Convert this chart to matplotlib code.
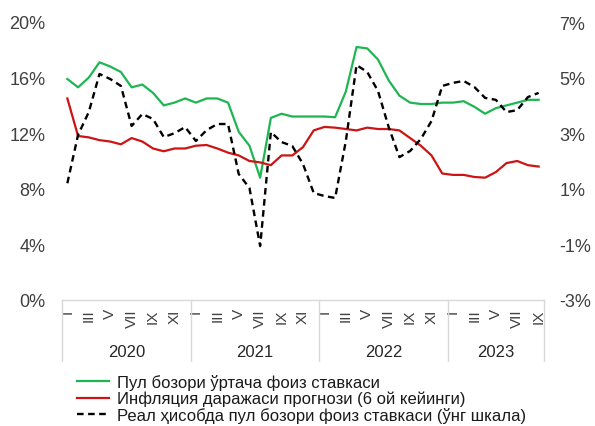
import matplotlib
matplotlib.use("Agg")
import matplotlib.pyplot as plt
from matplotlib.lines import Line2D
import matplotlib.transforms as mtransforms

plt.rcParams['font.family'] = ['Liberation Sans', 'DejaVu Sans']

years = ["2020", "2021", "2022", "2023"]
months_per_year = [12, 12, 12, 9]
month_labels = ["I", "II", "III", "IV", "V", "VI", "VII", "VIII", "IX", "X", "XI", "XII"]

money_market_rate = [15.9, 15.3, 16.0, 17.1, 16.8, 16.4, 15.3, 15.5, 14.9, 14.0, 14.2, 14.5,
                     14.2, 14.5, 14.5, 14.2, 12.1, 11.1, 8.8, 13.1, 13.4, 13.2, 13.2, 13.2,
                     13.2, 13.15, 15.0, 18.2, 18.1, 17.3, 15.8, 14.7, 14.2, 14.1, 14.1, 14.2,
                     14.2, 14.3, 13.9, 13.4, 13.8, 14.0, 14.2, 14.4, 14.4]
inflation_forecast = [14.5, 11.8, 11.7, 11.5, 11.4, 11.2, 11.65, 11.4, 10.9, 10.7, 10.9, 10.9,
                      11.1, 11.15, 10.9, 10.6, 10.4, 10.0, 9.9, 9.7, 10.4, 10.4, 11.0, 12.2,
                      12.45, 12.4, 12.3, 12.2, 12.4, 12.3, 12.3, 12.2, 11.65, 11.1, 10.4, 9.1,
                      9.0, 9.0, 8.85, 8.8, 9.2, 9.85, 10.0, 9.7, 9.6]
real_rate = [1.2, 2.94, 3.76, 5.13, 4.95, 4.70, 3.26, 3.69, 3.51, 2.86, 3.0, 3.22,
             2.72, 3.11, 3.33, 3.33, 1.53, 1.03, -1.06, 3.04, 2.68, 2.54, 1.89, 0.85,
             0.74, 0.67, 2.72, 5.45, 5.20, 4.52, 3.22, 2.14, 2.36, 2.79, 3.44, 4.70,
             4.81, 4.88, 4.66, 4.27, 4.2, 3.76, 3.83, 4.30, 4.45]

legend_labels = ["Пул бозори ўртача фоиз ставкаси",
                 "Инфляция даражаси прогнози (6 ой кейинги)",
                 "Реал ҳисобда пул бозори фоиз ставкаси (ўнг шкала)"]

green = "#1fb552"
red = "#cc1414"

fig = plt.figure(figsize=(5.95, 4.27), dpi=100)
ax = fig.add_axes([62/595, 1 - 301/427, (544-62)/595, (301-23)/427])
ax2 = ax.twinx()

n = len(money_market_rate)
x = list(range(n))

ax.plot(x, money_market_rate, color=green, lw=1.6, solid_joinstyle='round')
ax.plot(x, inflation_forecast, color=red, lw=1.6, solid_joinstyle='round')
ax2.plot(x, real_rate, color="black", lw=1.7, linestyle=(0, (2.8, 1.9)))

ax.set_xlim(-0.5, n - 0.5)
ax.set_ylim(0, 20)
ax.set_yticks([0, 4, 8, 12, 16, 20])
ax.set_yticklabels([f"{v}%" for v in [0, 4, 8, 12, 16, 20]])
ax2.set_ylim(-3, 7)
ax2.set_yticks([-3, -1, 1, 3, 5, 7])
ax2.set_yticklabels([f"{v}%" for v in [-3, -1, 1, 3, 5, 7]])

for a in (ax, ax2):
    for s in ("top", "left", "right", "bottom"):
        a.spines[s].set_visible(False)
ax.spines["bottom"].set_visible(True)
ax.spines["bottom"].set_color("#d9d9d9")
ax.spines["bottom"].set_linewidth(1.0)

ax.tick_params(axis='y', length=0, labelsize=13, colors="#404040", pad=12)
ax2.tick_params(axis='y', length=0, labelsize=13, colors="#404040", pad=11)

# month ticks
tick_pos = []
tick_lab = []
idx = 0
for yi, m in enumerate(months_per_year):
    for k in range(m):
        if k % 2 == 0:
            tick_pos.append(idx)
            tick_lab.append(month_labels[k])
        idx += 1
ax.set_xticks(tick_pos)
ax.set_xticklabels(tick_lab, rotation=90, fontsize=11, color="#404040")
ax.tick_params(axis='x', length=0, pad=6)

# year separators and labels
trans = mtransforms.blended_transform_factory(ax.transData, ax.transAxes)
start = 0
bounds = [-0.5]
for m in months_per_year:
    start += m
    bounds.append(start - 0.5)
for b in bounds:
    ax.plot([b, b], [0, -0.22], transform=trans, color="#d9d9d9", lw=1.0, clip_on=False)
for i, yname in enumerate(years):
    cx = (bounds[i] + bounds[i + 1]) / 2
    ax.text(cx, -0.185, yname, transform=trans, ha='center', va='center',
            fontsize=12, color="#262626")

handles = [Line2D([], [], color=green, lw=1.6),
           Line2D([], [], color=red, lw=1.6),
           Line2D([], [], color="black", lw=1.7, linestyle=(0, (2.8, 1.9)))]
fig.legend(handles, legend_labels, loc='upper left', bbox_to_anchor=(77/595, 1 - 375/427),
           frameon=False, fontsize=12, handlelength=1.9, handletextpad=0.5,
           labelspacing=0.05, borderpad=0, borderaxespad=0, labelcolor="#1a1a1a")

fig.savefig("out.png", dpi=100)
